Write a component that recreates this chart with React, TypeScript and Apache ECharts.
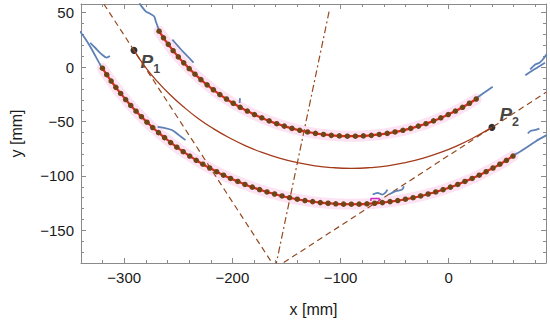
import React, { useEffect, useRef } from 'react';
import * as echarts from 'echarts';

// ---- axes ----
const xRange = [-340, 90];
const yRange = [-180, 58];
const xMajorTicks = [-300, -200, -100, 0];
const yMajorTicks = [-150, -100, -50, 0, 50];
const xMinorStep = 20;
const yMinorStep = 10;

// ---- measured arcs (mm) ----
const upperArc: number[][] = [
  [-267.8, 33.0], [-263.7, 26.9], [-259.3, 20.9], [-254.8, 15.1], [-250.0, 9.4], [-245.0, 3.9],
  [-239.9, -1.4], [-234.6, -6.5], [-229.1, -11.5], [-223.4, -16.3], [-217.6, -20.8], [-211.6, -25.2],
  [-205.5, -29.3], [-199.2, -33.2], [-192.8, -36.9], [-186.2, -40.4], [-179.6, -43.6], [-172.8, -46.6],
  [-166.0, -49.4], [-159.0, -52.0], [-152.0, -54.2], [-144.9, -56.3], [-137.7, -58.1], [-130.5, -59.6],
  [-123.2, -60.9], [-115.8, -61.9], [-108.5, -62.7], [-101.1, -63.2], [-93.7, -63.5], [-86.3, -63.5],
  [-78.9, -63.2], [-71.5, -62.7], [-64.2, -61.9], [-56.8, -60.9], [-49.6, -59.6], [-42.3, -58.1],
  [-35.1, -56.3], [-28.0, -54.2], [-21.0, -52.0], [-14.0, -49.4], [-7.2, -46.6], [-0.4, -43.6],
  [6.2, -40.4], [12.8, -36.9], [19.2, -33.2], [25.5, -29.3],
];

const lowerArc: number[][] = [
  [-320.2, -1.0], [-316.2, -7.0], [-312.1, -12.8], [-307.8, -18.6], [-303.3, -24.2], [-298.7, -29.8],
  [-294.0, -35.2], [-289.1, -40.5], [-284.1, -45.6], [-279.0, -50.6], [-273.7, -55.5], [-268.3, -60.2],
  [-262.7, -64.8], [-257.1, -69.3], [-251.4, -73.6], [-245.5, -77.7], [-239.5, -81.7], [-233.4, -85.6],
  [-227.3, -89.2], [-221.0, -92.7], [-214.6, -96.1], [-208.2, -99.3], [-201.7, -102.3], [-195.0, -105.1],
  [-188.4, -107.8], [-181.6, -110.3], [-174.8, -112.6], [-168.0, -114.7], [-161.0, -116.6], [-154.1, -118.4],
  [-147.1, -120.0], [-140.0, -121.4], [-132.9, -122.6], [-125.8, -123.6], [-118.7, -124.5], [-111.5, -125.1],
  [-104.4, -125.6], [-97.2, -125.9], [-90.0, -126.0], [-82.8, -125.9], [-75.6, -125.6], [-68.5, -125.1],
  [-61.3, -124.5], [-54.2, -123.6], [-47.1, -122.6], [-40.0, -121.4], [-32.9, -120.0], [-25.9, -118.4],
  [-19.0, -116.6], [-12.0, -114.7], [-5.2, -112.6], [1.6, -110.3], [8.4, -107.8], [15.0, -105.1],
  [21.7, -102.3], [28.2, -99.3], [34.6, -96.1], [41.0, -92.7], [47.3, -89.2], [53.4, -85.6], [59.5, -81.7],
];

const meanArc: number[][] = [
  [-291, 15.4], [-280.3, -0.2], [-269.5, -13.1], [-257.8, -25.2], [-245.2, -36.5], [-232.0, -46.9],
  [-218.0, -56.3], [-203.4, -64.7], [-188.2, -72.1], [-172.6, -78.4], [-156.6, -83.6], [-140.2, -87.7],
  [-123.6, -90.7], [-106.8, -92.4], [-90, -93.0], [-73.2, -92.4], [-56.4, -90.7], [-39.8, -87.7],
  [-23.4, -83.6], [-7.4, -78.4], [8.2, -72.1], [23.4, -64.7], [40, -55.4],
];

const point1 = [-291, 15.4];
const point2 = [40, -55.4];
const tangentCross = [-160.3, -184.6];
const tangent1: number[][] = [[-318.9, 58], point1, tangentCross];
const tangent2: number[][] = [tangentCross, point2, [90, -23.2]];
const bisector: number[][] = [tangentCross, [-110.4, 52]];

// ---- blue contour fragments ----
const contourLowerLeft = [[-341, 33], [-336, 26], [-331, 18], [-326, 9], [-321, 0]];
const contourSquiggle = [[-331.5, 22.3], [-326.9, 17.8], [-320.8, 11.7], [-316.3, 8.7], [-313.3, 10.2]];
const contourUpperLeft = [[-286, 58.6], [-279.9, 51], [-276.9, 49.5], [-272.3, 46.5], [-270.8, 41.9], [-267.7, 33.5]];
const contourBesideUpper = [[-255.5, 25.3], [-250, 19], [-245.5, 14], [-240, 8.5], [-235.9, 4.1]];
const contourMidLeft = [[-269.2, -54.9], [-263.2, -55.8], [-255.5, -58], [-249.5, -62.5], [-243.4, -67.1]];
const contourTick = [[-193, -28.5], [-193.3, -33]];
const contourUpperRight = [[24.6, -29.2], [32, -24], [40.7, -18]];
const contourEdgeA = [[70.9, -7.4], [76, -4], [81, -1], [85, 1.5], [89.1, 4.1]];
const contourEdgeB = [[75.4, -2], [80, 2.5], [84, 4], [87, 7], [90.6, 11.7]];
const contourEdgeC = [[73.2, -61], [76, -58.5], [79.3, -58], [83.9, -56.5]];
const contourLowerRight = [[57.5, -82], [64, -79], [70.9, -74.6], [80, -68.5], [90.6, -62.5]];
const contourBottomA = [[-70.3, -117.1], [-65.8, -115.5], [-61.2, -117.1], [-58.2, -115.0], [-56.7, -112.5]];
const contourBottomB = [[-55.1, -117.1], [-49.1, -114.0], [-43, -112.5], [-41.5, -109.4]];
const magentaBracket = [[-71.9, -123.1], [-71.9, -120.7], [-64.2, -120.7], [-64.2, -123.1]];

const blueFragments = [
  contourLowerLeft, contourSquiggle, contourUpperLeft, contourBesideUpper, contourMidLeft, contourTick,
  contourUpperRight, contourEdgeA, contourEdgeB, contourEdgeC, contourLowerRight, contourBottomA, contourBottomB,
];

const FONT = '"Liberation Sans", Arial, sans-serif';
const AXIS_COLOR = '#8a8a8a';
const TEXT_COLOR = '#1a1a1a';
const fmt = (v: number) => String(v).replace('-', '\u2212');

export default function App() {
  const ref = useRef<HTMLDivElement>(null);
  useEffect(() => {
    const chart = echarts.init(ref.current!, null, { renderer: 'svg' });

    const mkAxis = (isX: boolean, position: string, major: boolean, withLabels: boolean) => {
      const range = isX ? xRange : yRange;
      const ticks = isX ? xMajorTicks : yMajorTicks;
      const ax: any = {
        type: 'value',
        min: range[0],
        max: range[1],
        position,
        splitLine: { show: false },
        axisLine: { show: major, onZero: false, lineStyle: { color: AXIS_COLOR, width: 1 } },
        axisTick: {
          show: true,
          inside: true,
          length: major ? 5 : 3,
          lineStyle: { color: AXIS_COLOR, width: 1 },
        },
        axisLabel: { show: false },
      };
      if (major) {
        ax.axisTick.customValues = ticks;
        if (withLabels) {
          ax.axisLabel = {
            show: true,
            customValues: ticks,
            formatter: fmt,
            fontSize: 15,
            fontFamily: FONT,
            color: TEXT_COLOR,
            margin: 7,
          };
          ax.name = isX ? 'x [mm]' : 'y [mm]';
          ax.nameLocation = 'middle';
          ax.nameGap = isX ? 38 : 57;
          ax.nameTextStyle = { fontSize: 16, fontFamily: FONT, color: TEXT_COLOR };
        }
      } else {
        ax.interval = isX ? xMinorStep : yMinorStep;
      }
      return ax;
    };

    const lineSeries = (data: number[][], lineStyle: any, extra: any = {}) => ({
      type: 'line',
      data,
      showSymbol: false,
      symbol: 'none',
      silent: true,
      lineStyle,
      ...extra,
    });

    const pLabel = (sub: string, offset: number[], distance: number) => ({
      show: true,
      position: 'right',
      distance,
      offset,
      formatter: `{p|P}{s|${sub}}`,
      rich: {
        p: { fontSize: 19, fontWeight: 'bold', fontStyle: 'italic', fontFamily: FONT, color: '#111', lineHeight: 28, verticalAlign: 'middle' },
        s: { fontSize: 12.5, fontWeight: 'bold', fontFamily: FONT, color: '#111', lineHeight: 13, verticalAlign: 'bottom' },
      },
    });

    const dottedArc = (data: number[][]) => ({
      type: 'line',
      data,
      smooth: true,
      symbol: 'circle',
      symbolSize: 5.5,
      showSymbol: true,
      silent: true,
      lineStyle: { color: '#e3281f', width: 2.2 },
      itemStyle: { color: '#6e4515', borderWidth: 0 },
    });

    const series: any[] = [
      lineSeries(upperArc, { color: '#fde2f3', width: 11, cap: 'round' }, { smooth: true }),
      lineSeries(lowerArc, { color: '#fde2f3', width: 11, cap: 'round' }, { smooth: true }),
      lineSeries(tangent1, { color: '#96491f', width: 1.2, type: [6, 4] }),
      lineSeries(tangent2, { color: '#96491f', width: 1.2, type: [6, 4] }),
      lineSeries(bisector, { color: '#96491f', width: 1.2, type: [7, 3, 2, 3] }),
      lineSeries(meanArc, { color: '#a33a1a', width: 1.3 }, { smooth: true }),
      ...blueFragments.map((f) => lineSeries(f, { color: '#5e81b5', width: 1.8 }, { smooth: 0.3 })),
      lineSeries(magentaBracket, { color: '#d22ac4', width: 1.5 }),
      dottedArc(upperArc),
      dottedArc(lowerArc),
      {
        type: 'scatter',
        data: [point1],
        symbolSize: 7,
        silent: true,
        itemStyle: { color: '#000' },
        label: pLabel('1', [0, 11.5], 3),
      },
      {
        type: 'scatter',
        data: [point2],
        symbolSize: 7,
        silent: true,
        itemStyle: { color: '#000' },
        label: pLabel('2', [0, -13.3], 4),
      },
    ];

    chart.setOption({
      animation: false,
      backgroundColor: '#ffffff',
      grid: { left: 74, right: 4, top: 4, bottom: 56, containLabel: false },
      xAxis: [
        mkAxis(true, 'bottom', true, true),
        mkAxis(true, 'bottom', false, false),
        mkAxis(true, 'top', true, false),
        mkAxis(true, 'top', false, false),
      ],
      yAxis: [
        mkAxis(false, 'left', true, true),
        mkAxis(false, 'left', false, false),
        mkAxis(false, 'right', true, false),
        mkAxis(false, 'right', false, false),
      ],
      series,
    });
    return () => chart.dispose();
  }, []);
  return <div ref={ref} style={{ position: 'absolute', left: 0, top: 0, width: 550, height: 322 }} />;
}
